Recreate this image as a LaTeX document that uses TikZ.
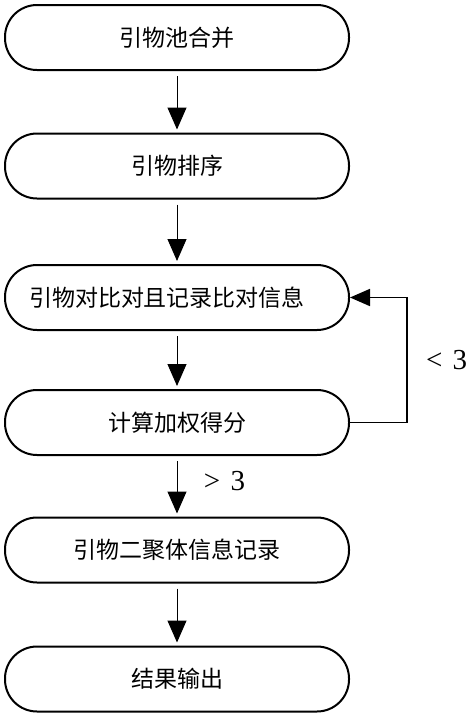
\documentclass[tikz,border=0pt]{standalone}
\usepackage{fontspec}
\setmainfont{Liberation Serif}
\newfontfamily\cjk{Noto Sans CJK SC}
\usetikzlibrary{arrows.meta}
\begin{document}
\begin{tikzpicture}[x=1pt,y=-1pt,
  box/.style={draw, line width=2pt, rounded corners=32pt, minimum width=344pt, minimum height=65pt, inner sep=0pt, font=\cjk\fontsize{23}{27}\selectfont},
  arr/.style={line width=1pt, -{Triangle[length=22pt,width=19pt]}},
  looparr/.style={line width=1.8pt, -{Triangle[length=20pt,width=17pt]}},
  lbl/.style={font=\fontsize{29}{33}\selectfont, inner sep=0pt}]
\useasboundingbox (0,0) rectangle (474,718);
\node[box] (b1) at (177,37.5) {引物池合并};
\node[box] (b2) at (177,166) {引物排序};
\node[box] (b3) at (177,297.5) {引物对比对且记录比对信息\hspace*{20pt}};
\node[box] (b4) at (177,422.5) {计算加权得分};
\node[box] (b5) at (177,550) {引物二聚体信息记录};
\node[box] (b6) at (177,679) {结果输出};
\draw[arr, shorten <=5pt, shorten >=3pt] (b1) -- (b2);
\draw[arr, shorten <=5pt, shorten >=3pt] (b2) -- (b3);
\draw[arr, shorten <=5pt, shorten >=3pt] (b3) -- (b4);
\draw[arr, shorten <=5pt, shorten >=3pt] (b4) -- (b5);
\draw[arr, shorten <=5pt, shorten >=3pt] (b5) -- (b6);
\coordinate (c1) at (407,422.5);
\coordinate (c2) at (407,297.5);
\draw[looparr] ([xshift=-2pt]b4.east) -- (c1) -- (c2) -- (b3.east);
\node[lbl] (lt) at (446.5,360) {<\hspace{0.35em}3};
\node[lbl] (gt) at (224.5,481) {>\hspace{0.35em}3};
\end{tikzpicture}
\end{document}
